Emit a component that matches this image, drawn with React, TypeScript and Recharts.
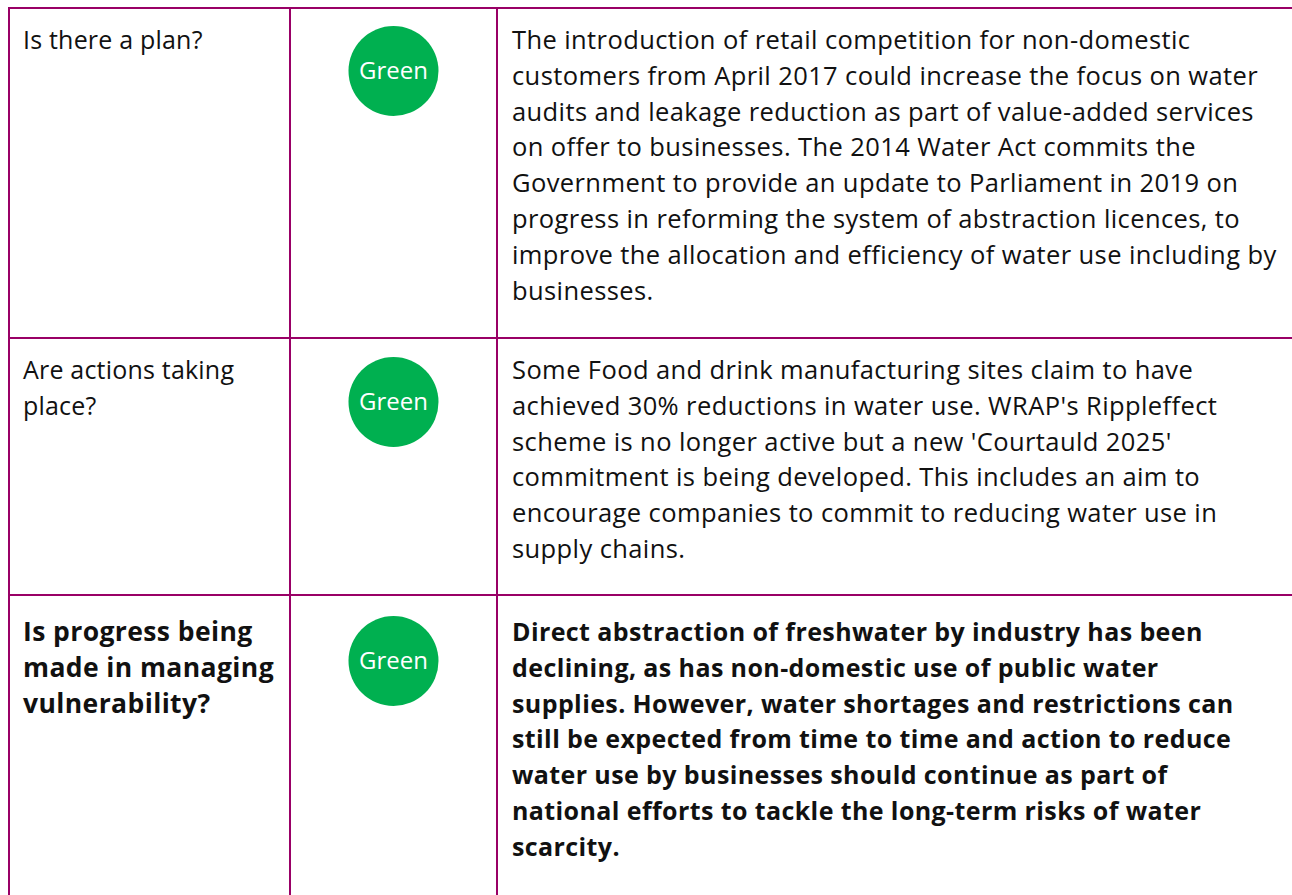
import { ScatterChart, Scatter, XAxis, YAxis, ReferenceLine, Customized } from "recharts";

// table content
const questions = [
  ["Is there a plan?"],
  ["Are actions taking", "place?"],
  ["Is progress being", "made in managing", "vulnerability?"]
];

const ratings = ["Green", "Green", "Green"];

const commentary = [
  [
    "The introduction of retail competition for non-domestic",
    "customers from April 2017 could increase the focus on water",
    "audits and leakage reduction as part of value-added services",
    "on offer to businesses. The 2014 Water Act commits the",
    "Government to provide an update to Parliament in 2019 on",
    "progress in reforming the system of abstraction licences, to",
    "improve the allocation and efficiency of water use including by",
    "businesses."
  ],
  [
    "Some Food and drink manufacturing sites claim to have",
    "achieved 30% reductions in water use. WRAP's Rippleffect",
    "scheme is no longer active but a new 'Courtauld 2025'",
    "commitment is being developed. This includes an aim to",
    "encourage companies to commit to reducing water use in",
    "supply chains."
  ],
  [
    "Direct abstraction of freshwater by industry has been",
    "declining, as has non-domestic use of public water",
    "supplies. However, water shortages and restrictions can",
    "still be expected from time to time and action to reduce",
    "water use by businesses should continue as part of",
    "national efforts to tackle the long-term risks of water",
    "scarcity."
  ]
];

const emphasised = [false, false, true];

// layout (page pixels)
const W = 1292;
const H = 895;
const ROW_TOPS = [8, 338, 595];
const BASE_OFF = [41, 41, 46];
const DOT_OFF = [63, 64, 66];
const COL_LINES = [9, 290, 497];
const BORDER = "#990066";
const FONT = "'Open Sans', 'Noto Sans', sans-serif";
const LINE_H = 35.8;

const ratingColor: Record<string, string> = { Green: "#00B050" };

const points = ratings.map((r, i) => ({
  x: (COL_LINES[1] + COL_LINES[2]) / 2,
  y: ROW_TOPS[i] + DOT_OFF[i],
  rating: r
}));

function RatingDot(props: any) {
  const { cx, cy, payload } = props;
  return (
    <g>
      <circle cx={cx} cy={cy} r={45} fill={ratingColor[payload.rating]} />
      <text x={cx} y={cy + 8} textAnchor="middle" fill="#fff" fontSize={24} fontFamily={FONT}>
        {payload.rating}
      </text>
    </g>
  );
}

function CellText() {
  return (
    <g>
      {questions.map((lines, i) => (
        <text
          key={"q" + i}
          fontSize={emphasised[i] ? 26.5 : 25}
          letterSpacing={emphasised[i] ? 0.4 : 0.2}
          fontFamily={FONT}
          fill="#111"
          fontWeight={emphasised[i] ? 700 : 400}
        >
          {lines.map((l, j) => (
            <tspan key={j} x={23} y={ROW_TOPS[i] + BASE_OFF[i] + j * LINE_H}>
              {l}
            </tspan>
          ))}
        </text>
      ))}
      {commentary.map((lines, i) => (
        <text
          key={"c" + i}
          fontSize={emphasised[i] ? 25 : 25.5}
          letterSpacing={0.4}
          fontFamily={FONT}
          fill="#111"
          fontWeight={emphasised[i] ? 700 : 400}
        >
          {lines.map((l, j) => (
            <tspan key={j} x={512} y={ROW_TOPS[i] + BASE_OFF[i] + j * LINE_H}>
              {l}
            </tspan>
          ))}
        </text>
      ))}
    </g>
  );
}

export default function App() {
  return (
    <div style={{ position: "absolute", left: 0, top: 0, background: "#fff" }}>
      <ScatterChart width={W} height={H} margin={{ top: 0, right: 0, bottom: 0, left: 0 }}>
        <XAxis type="number" dataKey="x" domain={[0, W]} hide />
        <YAxis type="number" dataKey="y" domain={[0, H]} reversed hide />
        {COL_LINES.map((x) => (
          <ReferenceLine
            key={"v" + x}
            segment={[{ x, y: ROW_TOPS[0] - 1 }, { x, y: H }]}
            stroke={BORDER}
            strokeWidth={2}
          />
        ))}
        {ROW_TOPS.map((y) => (
          <ReferenceLine
            key={"h" + y}
            segment={[{ x: COL_LINES[0] - 1, y }, { x: W, y }]}
            stroke={BORDER}
            strokeWidth={2}
          />
        ))}
        <Customized component={CellText} />
        <Scatter data={points} shape={RatingDot} isAnimationActive={false} />
      </ScatterChart>
    </div>
  );
}
